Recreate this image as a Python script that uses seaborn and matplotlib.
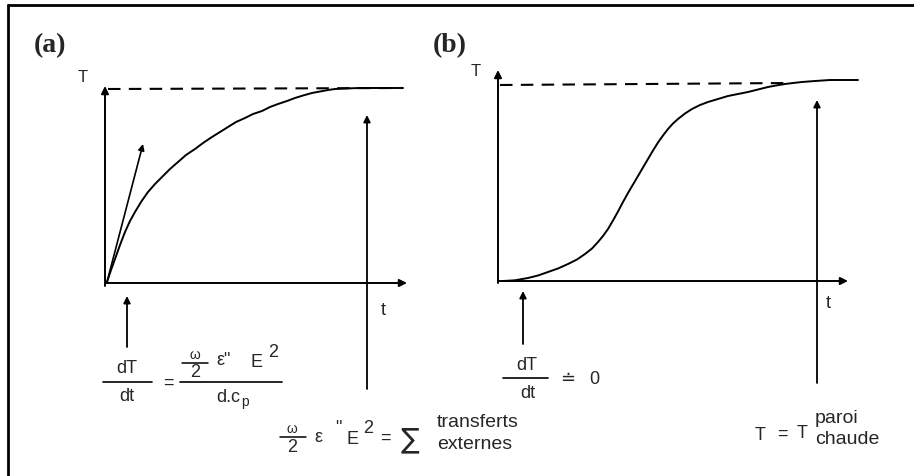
import seaborn as sns
import matplotlib
matplotlib.use("Agg")
import matplotlib.pyplot as plt
import numpy as np

# curve (a): exponential approach, pixel coords
curve_a_x = [107, 111, 115, 120, 125, 130, 135, 141, 148, 155, 162, 170, 178, 186, 195,
             203, 212, 220, 228, 236, 245, 253, 262, 270, 278, 287, 295, 303, 312, 320,
             328, 335, 345, 360, 380, 403]
curve_a_y = [283, 271, 260, 246, 233, 222, 213, 203, 193, 185, 178, 170, 163, 156, 150,
             144, 138, 133, 128, 123, 119, 115, 112, 108, 105, 102, 99, 96.5, 94, 92.5,
             91, 90, 89.5, 89, 89, 89]

# curve (b): sigmoid
curve_b_x = [503, 515, 528, 538, 548, 558, 568, 577, 585, 592, 598, 603, 608, 613, 618,
             623, 628, 633, 638, 643, 648, 653, 658, 663, 668, 673, 678, 685, 692, 700,
             708, 718, 728, 738, 748, 758, 768, 776, 785, 793, 802, 815, 830, 858]
curve_b_y = [282, 281.3, 279, 276.5, 273, 269.5, 265, 260.5, 255, 249.5, 243, 237, 230, 221.5, 212.5,
             203, 194, 185.5, 177, 168.5, 160, 151.5, 143.5, 136.5, 130, 124.5, 120, 114.5, 110, 106,
             103, 100, 97, 95, 93, 90.5, 88, 86.5, 85, 84, 83, 82, 81, 81]

# dashed plateau lines
plateau_a_x = [108, 403]
plateau_a_y = [90, 89]
plateau_b_x = [500, 790]
plateau_b_y = [86, 84]

sns.set_theme(style="white")
plt.rcParams['font.family'] = ['Liberation Sans', 'DejaVu Sans']

fig = plt.figure(figsize=(9.14, 4.77), dpi=100)
ax = fig.add_axes([0, 0, 1, 1])
ax.set_xlim(0, 914)
ax.set_ylim(477, 0)
ax.axis('off')

# frame (top + left only)
ax.plot([8, 914], [6, 6], color='black', lw=2)
ax.plot([8, 8], [6, 477], color='black', lw=2)

def arrow(x0, y0, x1, y1, lw=1.4, ms=11):
    ax.annotate('', xy=(x1, y1), xytext=(x0, y0),
                arrowprops=dict(arrowstyle='-|>', color='black', lw=lw,
                                mutation_scale=ms, shrinkA=0, shrinkB=0))

fs = 13      # formula text
fl = 14      # word labels
txt = dict(ha='center', va='center')

# ---- panel (a)
sns.lineplot(x=curve_a_x, y=curve_a_y, sort=False, estimator=None, color='black', lw=1.4, ax=ax)
ax.plot(plateau_a_x, plateau_a_y, color='black', lw=1.5, ls=(0, (6, 4)))
arrow(105, 287, 105, 87)
arrow(105, 284, 407, 284)
arrow(107, 283, 143, 145, lw=1.2, ms=9)
arrow(367, 390, 367, 116, lw=1.3, ms=10)
arrow(127, 348, 127, 297, lw=1.3, ms=10)

ax.text(50, 46, '(a)', fontsize=20, fontweight='bold', family='Liberation Serif', **txt)
ax.text(83, 77, 'T', fontsize=12, **txt)
ax.text(383, 311, 't', fontsize=fs, **txt)

ax.text(127, 369, 'dT', fontsize=fs, **txt)
ax.plot([103, 152], [383, 383], color='black', lw=1.2)
ax.text(127, 397, 'dt', fontsize=fs, **txt)
ax.text(168, 383, '=', fontsize=fs, **txt)
ax.text(195, 355, 'ω', fontsize=10, **txt)
ax.plot([182, 208], [364, 364], color='black', lw=1.1)
ax.text(195, 373, '2', fontsize=fs, **txt)
ax.text(224, 361, 'ε"', fontsize=fs, **txt)
ax.text(256, 363, 'E', fontsize=fs, **txt)
ax.text(273, 353, '2', fontsize=fs, **txt)
ax.plot([180, 282], [383, 383], color='black', lw=1.2)
ax.text(228, 398, 'd.c', fontsize=fs, **txt)
ax.text(245, 402, 'p', fontsize=10, **txt)

# ---- bottom equation
ax.text(292, 429, 'ω', fontsize=10, **txt)
ax.plot([280, 306], [438, 438], color='black', lw=1.1)
ax.text(292, 448, '2', fontsize=fs, **txt)
ax.text(318, 438, 'ε', fontsize=fs, **txt)
ax.text(338, 429, '"', fontsize=fs, **txt)
ax.text(353, 440, 'E', fontsize=fs, **txt)
ax.text(368, 429, '2', fontsize=fs, **txt)
ax.text(385, 438, '=', fontsize=fs, **txt)
ax.text(410, 439, '∑', fontsize=20, family='DejaVu Sans', **txt)
ax.text(437, 423, 'transferts', fontsize=fl, ha='left', va='center')
ax.text(437, 445, 'externes', fontsize=fl, ha='left', va='center')

# ---- panel (b)
sns.lineplot(x=curve_b_x, y=curve_b_y, sort=False, estimator=None, color='black', lw=1.4, ax=ax)
ax.plot(plateau_b_x, plateau_b_y, color='black', lw=1.5, ls=(0, (6, 4)))
arrow(498, 284, 498, 71)
arrow(498, 282, 848, 282)
arrow(817, 384, 817, 101, lw=1.3, ms=10)
arrow(523, 345, 523, 292, lw=1.3, ms=10)

ax.text(450, 46, '(b)', fontsize=20, fontweight='bold', family='Liberation Serif', **txt)
ax.text(476, 71, 'T', fontsize=12, **txt)
ax.text(828, 304, 't', fontsize=fs, **txt)

ax.text(527, 366, 'dT', fontsize=fs, **txt)
ax.plot([503, 548], [379, 379], color='black', lw=1.2)
ax.text(528, 394, 'dt', fontsize=fs, **txt)
ax.text(568, 379, '≐', fontsize=fs, family='DejaVu Sans', **txt)
ax.text(594, 380, '0', fontsize=fs, **txt)

ax.text(760, 436, 'T', fontsize=fs, **txt)
ax.text(782, 434, '=', fontsize=fs, **txt)
ax.text(802, 434, 'T', fontsize=fs, **txt)
ax.text(815, 419, 'paroi', fontsize=fl, ha='left', va='center')
ax.text(815, 440, 'chaude', fontsize=fl, ha='left', va='center')

fig.savefig('out.png', dpi=100)
